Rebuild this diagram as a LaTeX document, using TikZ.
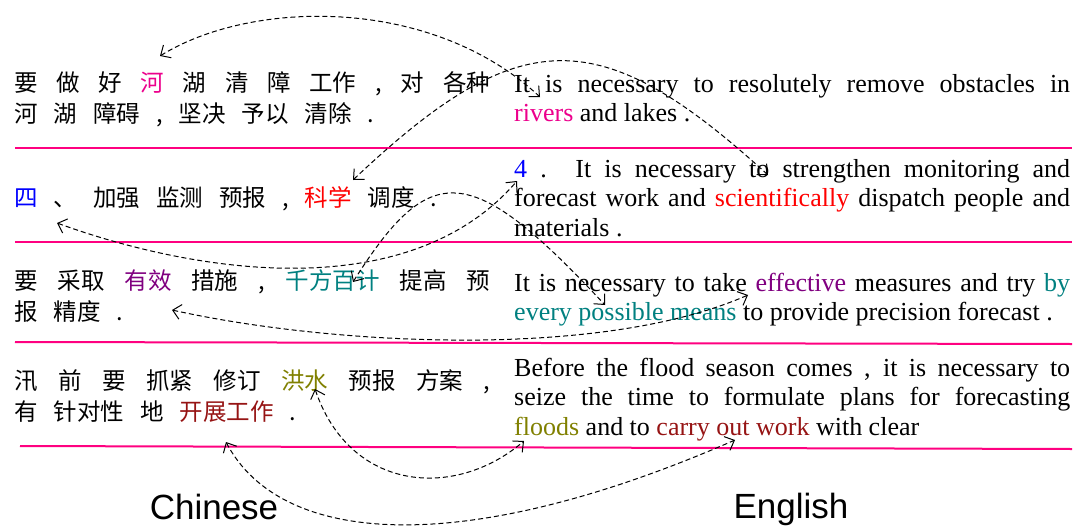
\documentclass[tikz,border=0pt]{standalone}
\usepackage{fontspec}
\setmainfont{Liberation Serif}
\setsansfont{Liberation Sans}
\newfontfamily\cjk{Noto Sans CJK SC}
\usetikzlibrary{arrows.meta}

\definecolor{sepline}{RGB}{255,0,128}
\definecolor{wpurple}{RGB}{128,0,128}
\definecolor{wteal}{RGB}{0,128,128}
\definecolor{wolive}{RGB}{128,128,0}
\definecolor{wmaroon}{RGB}{150,20,20}

\newcommand{\zhfont}{\cjk\fontsize{23.5}{31.5}\selectfont\spaceskip=16pt plus 20pt minus 2pt\relax\tolerance=10000\hbadness=10000\parindent=0pt}
\newcommand{\enfont}{\fontsize{26}{29.5}\selectfont\tolerance=10000\hbadness=10000\parindent=0pt}

\tikzset{
  zhblock/.style={anchor=north west, inner sep=0pt, text width=476pt, align=justify, font=\zhfont},
  enblock/.style={anchor=north west, inner sep=0pt, text width=556pt, align=justify, font=\enfont},
  rowline/.style={draw=sepline, line width=2pt},
  wordlink/.style={dash pattern=on 5pt off 3pt, line width=1pt,
    arrows={Straight Barb[length=8pt,width=15pt,line width=1pt]-Straight Barb[length=8pt,width=15pt,line width=1pt]}},
  langlabel/.style={font=\sffamily\fontsize{35}{40}\selectfont, anchor=base}
}

\begin{document}
\begin{tikzpicture}[x=1pt, y=-1pt]
    \useasboundingbox (0,0) rectangle (1075,527);

    % Row separators
    \foreach \ya/\yb/\xa in {148/148/15, 242/242/15, 342/344/15, 446/449/20} {
        \draw[rowline] (\xa,\ya) -- (1072,\yb);
    }

    % Sentence 1
    \node[zhblock] (zhA) at (14,68.95) {\strut 要 做 好 \textcolor{magenta}{河} 湖 清 障 工作 , 对 各种\linebreak 河 湖 障碍 , 坚决 予以 清除 .};
    \node[enblock] (enA) at (514,71.35) {\strut It is necessary to resolutely remove obstacles in\linebreak \textcolor{magenta}{rivers} and lakes .};

    % Sentence 2
    \node[zhblock] (zhB) at (14,183.95) {\strut \textcolor{blue}{四} 、 加强 监测 预报 , \textcolor{red}{科学} 调度 .};
    \node[enblock] (enB) at (514,156.35) {\strut \textcolor{blue}{4} . It is necessary to strengthen monitoring and\linebreak forecast work and \textcolor{red}{scientifically} dispatch people and\linebreak materials .};

    % Sentence 3
    \node[zhblock] (zhC) at (14,266.95) {\strut 要 采取 \textcolor{wpurple}{有效} 措施 , \textcolor{wteal}{千方百计} 提高 预\linebreak 报 精度 .};
    \node[enblock] (enC) at (514,270.35) {\strut It is necessary to take \textcolor{wpurple}{effective} measures and try \textcolor{wteal}{by}\linebreak \textcolor{wteal}{every possible means} to provide precision forecast .};

    % Sentence 4
    \node[zhblock] (zhD) at (14,366.95) {\strut 汛 前 要 抓紧 修订 \textcolor{wolive}{洪水} 预报 方案 ,\linebreak 有 针对性 地 \textcolor{wmaroon}{开展工作} .};
    \node[enblock] (enD) at (514,355.35) {\strut Before the flood season comes , it is necessary to\linebreak seize the time to formulate plans for forecasting\linebreak \textcolor{wolive}{floods} and to \textcolor{wmaroon}{carry out work} with clear};

    % Language labels
    \node[langlabel] (zhlabel) at (214,519) {Chinese};
    \node[langlabel] (enlabel) at (791,518) {English};

    % Word alignment ends
    \coordinate (he) at (160,56);
    \coordinate (rivers) at (540,97);
    \coordinate (kexue) at (353,180);
    \coordinate (sci) at (768,175);
    \coordinate (si) at (57,223);
    \coordinate (four) at (517,181);
    \coordinate (youxiao) at (172,310);
    \coordinate (effective) at (748,295);
    \coordinate (qianfang) at (353,282);
    \coordinate (means) at (605,305);
    \coordinate (hongshui) at (315,389);
    \coordinate (floods) at (524,441);
    \coordinate (kaizhan) at (226,442);
    \coordinate (carryout) at (735,440);

    % Word alignment links
    \draw[wordlink] (he) .. controls (250,0) and (430,-5) .. (rivers);
    \draw[wordlink] (kexue) .. controls (520,22) and (600,22) .. (sci);
    \draw[wordlink] (si) .. controls (200,275) and (410,305) .. (four);
    \draw[wordlink] (qianfang) .. controls (430,160) and (470,160) .. (means);
    \draw[wordlink] (youxiao) .. controls (330,345) and (600,360) .. (effective);
    \draw[wordlink] (hongshui) .. controls (350,492) and (455,500) .. (floods);
    \draw[wordlink] (kaizhan) .. controls (280,545) and (460,560) .. (carryout);
\end{tikzpicture}
\end{document}
